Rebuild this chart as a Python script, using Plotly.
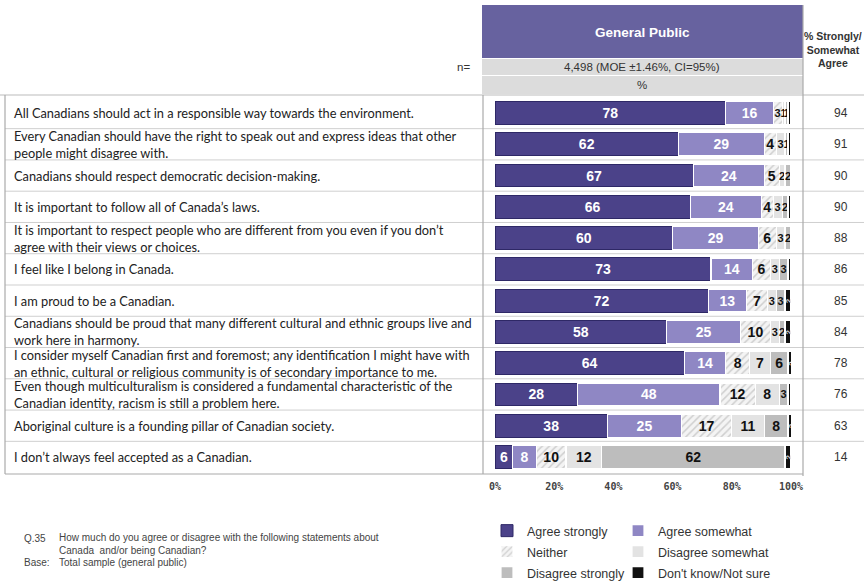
import plotly.graph_objects as go

W, H = 864, 584

statements = [
    "All Canadians should act in a responsible way towards the environment.",
    "Every Canadian should have the right to speak out and express ideas that other<br>people might disagree with.",
    "Canadians should respect democratic decision-making.",
    "It is important to follow all of Canada\u2019s laws.",
    "It is important to respect people who are different from you even if you don\u2019t<br>agree with their views or choices.",
    "I feel like I belong in Canada.",
    "I am proud to be a Canadian.",
    "Canadians should be proud that many different cultural and ethnic groups live and<br>work here in harmony.",
    "I consider myself Canadian first and foremost; any identification I might have with<br>an ethnic, cultural or religious community is of secondary importance to me.",
    "Even though multiculturalism is considered a fundamental characteristic of the<br>Canadian identity, racism is still a problem here.",
    "Aboriginal culture is a founding pillar of Canadian society.",
    "I don\u2019t always feel accepted as a Canadian.",
]

series_names = ["Agree strongly", "Agree somewhat", "Neither",
                "Disagree somewhat", "Disagree strongly", "Don't know/Not sure"]

agree_strongly = [78, 62, 67, 66, 60, 73, 72, 58, 64, 28, 38, 6]
agree_somewhat = [16, 29, 24, 24, 29, 14, 13, 25, 14, 48, 25, 8]
neither = [3, 4, 5, 4, 6, 6, 7, 10, 8, 12, 17, 10]
disagree_somewhat = [1, 3, 2, 3, 3, 3, 3, 3, 7, 8, 11, 12]
disagree_strongly = [1, 1, 2, 2, 2, 3, 3, 2, 6, 3, 8, 62]
dont_know = [1, 1, 1, 1, 1, 1, 2, 2, 2, 1, 2, 2]

net_agree = [94, 91, 90, 90, 88, 86, 85, 84, 78, 76, 63, 14]

header_title = "General Public"
n_label = "n="
n_text = "4,498 (MOE \u00b11.46%, CI=95%)"
pct_text = "%"
net_header = "% Strongly/<br>Somewhat<br>Agree"
tick_vals = [0, 20, 40, 60, 80, 100]
tick_text = ["0%", "20%", "40%", "60%", "80%", "100%"]
footnote_q = "Q.35"
footnote_q_text = "How much do you agree or disagree with the following statements about<br>Canada  and/or being Canadian?"
footnote_base = "Base:"
footnote_base_text = "Total sample (general public)"

rows = list(range(len(statements)))

def px_x(p):
    return p / W

def px_y(p):
    return 1 - p / H

# plot geometry (pixels)
X0, X1 = 495, 791
ROW_TOP, ROW_BOT = 97.4, 472.6

all_series = [agree_strongly, agree_somewhat, neither, disagree_somewhat, disagree_strongly, dont_know]
colors = ["#4b4289", "#8f87c4", "#f4f4f4", "#e3e3e3", "#bdbdbd", "#111111"]
text_colors = ["white", "white", "#111", "#111", "#111", "#dddddd"]
legend_ids = ["legend", "legend2", "legend3", "legend4", "legend5", "legend6"]
# legend item pixel anchors (left edge / row centre)
legend_pos = [(487, 531), (618, 531), (487, 552), (618, 552), (487, 573), (618, 573)]

fig = go.Figure()
for i, (name, vals) in enumerate(zip(series_names, all_series)):
    if i == 5:
        txt = [str(v) if v >= 2 else "" for v in vals]
        sizes = 8
    else:
        txt = [str(v) for v in vals]
        sizes = [14 if v >= 4 else 11 for v in vals]
    marker = dict(color=colors[i], line=dict(color="white", width=1.2))
    if i == 0:
        marker["line"] = dict(color="#2e2866", width=1)
    if i == 2:
        marker["pattern"] = dict(shape="/", fgcolor="#aaaaaa", bgcolor="#f4f4f4",
                                 size=5, solidity=0.3, fillmode="overlay")
    fig.add_trace(go.Bar(
        name=name, y=rows, x=vals, orientation="h", marker=marker,
        text=txt, textposition="inside", insidetextanchor="middle",
        textangle=(-90 if i == 5 else 0), constraintext="none",
        textfont=dict(family="Liberation Sans", size=sizes,
                      color=text_colors[i], weight="bold"),
        hoverinfo="skip", legend=legend_ids[i],
    ))

fig.update_layout(
    width=W, height=H, barmode="stack", bargap=0.27,
    margin=dict(l=0, r=0, t=0, b=0, autoexpand=False),
    paper_bgcolor="white", plot_bgcolor="white",
    font=dict(family="Liberation Sans", color="#333"),
    xaxis=dict(domain=[px_x(X0), px_x(X1)], range=[0, 100], tickvals=tick_vals,
               ticktext=tick_text, showgrid=False, zeroline=False, showline=False,
               ticks="", tickfont=dict(family="DejaVu Sans Mono", size=10, color="#444", weight="bold"),
               ticklabelstandoff=6, fixedrange=True),
    yaxis=dict(domain=[px_y(ROW_BOT), px_y(ROW_TOP)], range=[len(rows) - 0.5, -0.5],
               showticklabels=False, showgrid=False, zeroline=False, ticks="",
               fixedrange=True),
    showlegend=True,
)
for lid, (lx, ly) in zip(legend_ids, legend_pos):
    fig.update_layout({lid: dict(orientation="h", x=px_x(lx), y=px_y(ly), xanchor="left",
                                 yanchor="middle", itemwidth=30,
                                 font=dict(family="Liberation Sans", size=12.5, color="#333"),
                                 bgcolor="rgba(0,0,0,0)")})

shapes = []
line_col = "#cfcfcf"
# header block
shapes.append(dict(type="rect", xref="paper", yref="paper", x0=px_x(482), x1=px_x(803),
                   y0=px_y(58), y1=px_y(5), fillcolor="#67629f", line=dict(width=0), layer="below"))
shapes.append(dict(type="rect", xref="paper", yref="paper", x0=px_x(482), x1=px_x(803),
                   y0=px_y(75), y1=px_y(59), fillcolor="#dcdcdc", line=dict(width=0), layer="below"))
shapes.append(dict(type="rect", xref="paper", yref="paper", x0=px_x(482), x1=px_x(803),
                   y0=px_y(94), y1=px_y(76), fillcolor="#dcdcdc", line=dict(width=0), layer="below"))
# header horizontal line
shapes.append(dict(type="line", xref="paper", yref="paper", x0=0, x1=1,
                   y0=px_y(95), y1=px_y(95), line=dict(color="#bbbbbb", width=1)))
# row separators
for k in range(len(rows) - 1):
    shapes.append(dict(type="line", xref="paper", yref="y", x0=px_x(5), x1=1,
                       y0=k + 0.5, y1=k + 0.5, line=dict(color=line_col, width=1), layer="below"))
# bottom line
shapes.append(dict(type="line", xref="paper", yref="paper", x0=px_x(5), x1=px_x(803),
                   y0=px_y(474), y1=px_y(474), line=dict(color="#aaaaaa", width=1.2)))
# vertical borders
for xv, ya, yb in [(5, 95, 474), (483, 95, 474), (803, 5, 476)]:
    shapes.append(dict(type="line", xref="paper", yref="paper", x0=px_x(xv), x1=px_x(xv),
                       y0=px_y(yb), y1=px_y(ya), line=dict(color="#aaaaaa", width=1.2)))
fig.update_layout(shapes=shapes)

def note(x, y, text, size, color="#333", xanchor="center", align="center", family="Liberation Sans",
         yref="paper"):
    return dict(xref="paper", yref=yref, x=x, y=y, text=text, xanchor=xanchor, yanchor="middle",
                align=align, showarrow=False, font=dict(family=family, size=size, color=color))

ann = []
ann.append(note(px_x(642), px_y(32), "<b>" + header_title + "</b>", 13.5, "white"))
ann.append(note(px_x(642), px_y(67), n_text, 11.5))
ann.append(note(px_x(642), px_y(85), pct_text, 11.5))
ann.append(note(px_x(472), px_y(67), n_label, 11.5, xanchor="right"))
ann.append(note(px_x(833), px_y(49), "<b>" + net_header + "</b>", 10.5))
for r, s in zip(rows, statements):
    ann.append(note(px_x(12), r, s, 12.8, "#222", xanchor="left", align="left", family="Lato", yref="y"))
for r, v in zip(rows, net_agree):
    ann.append(note(px_x(841), r, str(v), 12, yref="y"))
ann.append(note(px_x(22), px_y(538), footnote_q, 10, "#444", xanchor="left"))
ann.append(note(px_x(57), px_y(544), footnote_q_text, 10, "#444", xanchor="left", align="left"))
ann.append(note(px_x(22), px_y(562), footnote_base, 10, "#444", xanchor="left"))
ann.append(note(px_x(57), px_y(562), footnote_base_text, 10, "#444", xanchor="left"))
fig.update_layout(annotations=ann)

fig.write_html("out.html", post_script="document.body.style.margin='0px';",
               config={"displayModeBar": False})
